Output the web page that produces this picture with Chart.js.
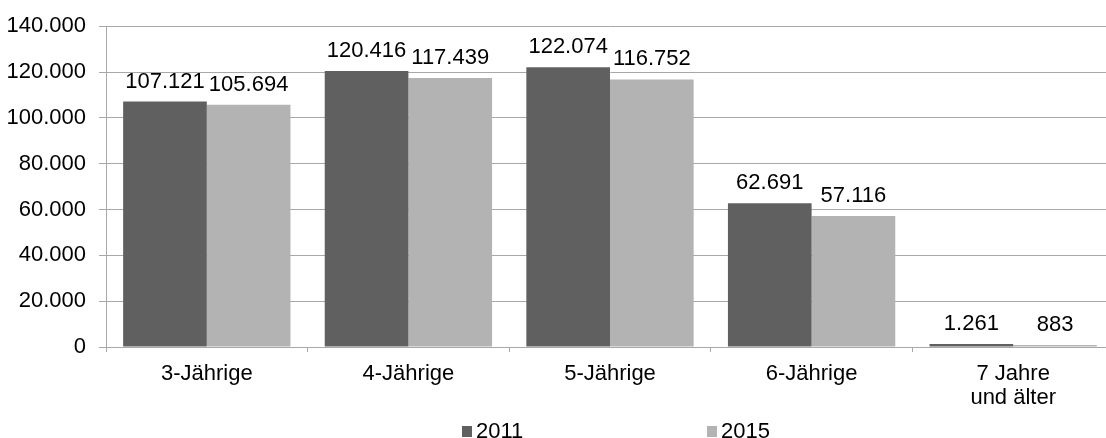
<!DOCTYPE html>
<html>
<head>
<meta charset="utf-8">
<script src="https://cdn.jsdelivr.net/npm/chart.js@4/dist/chart.umd.min.js"></script>
<style>
  html, body { margin: 0; padding: 0; background: #fff; overflow: hidden; }
  #wrap { width: 1114px; height: 438px; }
</style>
</head>
<body>
<div id="wrap"><canvas id="chart" width="1114" height="438"></canvas></div>
<script>
// Chart data
const categories = ['3-Jährige', '4-Jährige', '5-Jährige', '6-Jährige', ['7 Jahre', 'und älter']];
const values2011 = [107121, 120416, 122074, 62691, 1261];
const values2015 = [105694, 117439, 116752, 57116, 883];
const seriesLabels = ['2011', '2015'];
const yTicks = [0, 20000, 40000, 60000, 80000, 100000, 120000, 140000];

const FONT = 'Arial, "Liberation Sans", sans-serif';
const FONT_SIZE = 22;
const gridColor = '#a8a8a8';

// German number format: 107.121
function fmt(v) {
    return v.toLocaleString('de-DE');
}

// Value labels above the bars
const barLabels = {
    id: 'barLabels',
    afterDatasetsDraw(chart) {
        const ctx = chart.ctx;
        ctx.save();
        ctx.font = FONT_SIZE + 'px ' + FONT;
        ctx.fillStyle = '#000';
        ctx.textAlign = 'center';
        ctx.textBaseline = 'alphabetic';
        chart.data.datasets.forEach((ds, i) => {
            chart.getDatasetMeta(i).data.forEach((bar, j) => {
                ctx.fillText(fmt(ds.data[j]), bar.x, bar.y - 14);
            });
        });
        ctx.restore();
    }
};

// Legend drawn under the axis (wide spacing like the original)
const bottomLegend = {
    id: 'bottomLegend',
    afterDraw(chart) {
        const ctx = chart.ctx;
        const xs = [462, 707];
        const y = 431;
        ctx.save();
        ctx.font = FONT_SIZE + 'px ' + FONT;
        ctx.textBaseline = 'middle';
        ctx.textAlign = 'left';
        chart.data.datasets.forEach((ds, i) => {
            ctx.fillStyle = ds.backgroundColor;
            ctx.fillRect(xs[i], y - 5, 10, 11);
            ctx.fillStyle = '#000';
            ctx.fillText(ds.label, xs[i] + 14, y + 1);
        });
        ctx.restore();
    }
};

const ctx = document.getElementById('chart').getContext('2d');
const chart = new Chart(ctx, {
    type: 'bar',
    data: {
        labels: categories,
        datasets: [
            { label: seriesLabels[0], data: values2011, backgroundColor: '#606060' },
            { label: seriesLabels[1], data: values2015, backgroundColor: '#b3b3b3' }
        ]
    },
    options: {
        responsive: false,
        animation: false,
        layout: { padding: { top: 23, left: 0, right: 0, bottom: 0 } },
        datasets: {
            bar: { categoryPercentage: 0.83, barPercentage: 1.0 }
        },
        plugins: {
            legend: { display: false },
            tooltip: { enabled: false }
        },
        scales: {
            x: {
                grid: {
                    display: true,
                    drawOnChartArea: false,
                    drawTicks: true,
                    tickLength: 5,
                    color: gridColor,
                    offset: true
                },
                border: { color: gridColor, width: 1 },
                ticks: {
                    color: '#000',
                    font: { family: FONT, size: FONT_SIZE, lineHeight: 1.1 },
                    padding: 10,
                    maxRotation: 0,
                    autoSkip: false
                },
                afterFit(scale) { scale.height = 91; }
            },
            y: {
                min: 0,
                max: 140000,
                afterBuildTicks(scale) {
                    scale.ticks = yTicks.map(v => ({ value: v }));
                },
                grid: {
                    color: gridColor,
                    tickLength: 7,
                    drawTicks: true
                },
                border: { color: gridColor, width: 1 },
                ticks: {
                    color: '#000',
                    font: { family: FONT, size: FONT_SIZE },
                    padding: 13,
                    callback: v => fmt(v)
                },
                afterFit(scale) { scale.width = 106; }
            }
        }
    },
    plugins: [barLabels, bottomLegend]
});
</script>
</body>
</html>
